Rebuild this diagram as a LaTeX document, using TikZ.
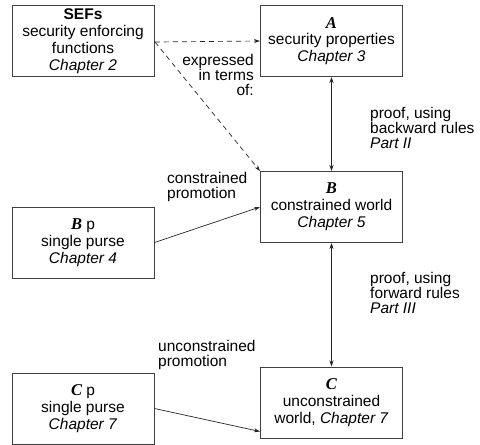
\documentclass[tikz,border=0pt]{standalone}
\usepackage{fontspec}
\setmainfont{Liberation Sans}
\newfontfamily\serifbi{Liberation Serif}
\usetikzlibrary{arrows.meta}
\newcommand{\mathletter}[1]{{\serifbi\bfseries\itshape\fontsize{16.5}{16.8}\selectfont #1}}
\begin{document}
\begin{tikzpicture}[x=1pt,y=-1pt,
  box/.style={draw=black!75,line width=1pt,minimum width=142pt,minimum height=71pt,align=center,inner sep=0pt,font=\fontsize{15.5}{16.8}\selectfont},
  lbl/.style={align=left,inner sep=0pt,font=\fontsize{15.5}{14.8}\selectfont},
  conn/.style={line width=0.7pt,black!85,-{Stealth[length=6pt,width=4pt]}},
  dconn/.style={line width=0.8pt,black!85,{Stealth[length=6pt,width=4pt]}-{Stealth[length=6pt,width=4pt]}}]
\useasboundingbox (0,0) rectangle (480,445);
\node[box] (sef) at (83,41) {{\bfseries SEFs}\\security enforcing\\functions\\\textit{Chapter 2}};
\node[box] (A) at (331.5,41) {\mathletter{A}\\security properties\\\textit{Chapter 3}};
\node[box] (B) at (331.5,207) {\mathletter{B}\\constrained world\\\textit{Chapter 5}};
\node[box] (Bp) at (83,242.5) {\mathletter{B} p\\single purse\\\textit{Chapter 4}};
\node[box] (C) at (331.5,402.5) {\mathletter{C}\\unconstrained\\world, \textit{Chapter 7}};
\node[box] (Cp) at (83,408.5) {\mathletter{C} p\\single purse\\\textit{Chapter 7}};
\coordinate (sefc) at (155,42);
\draw[conn,dashed,dash pattern=on 5pt off 4pt] (sefc) -- (A.west);
\draw[conn,dashed,dash pattern=on 5pt off 4pt] (sefc) -- (B.north west);
\draw[dconn] (A.south) -- (B.north);
\draw[dconn] (B.south) -- (C.north);
\draw[conn] (Bp.east) -- (B.west);
\draw[conn] (Cp.east) -- ([yshift=-29pt]C.west);
\node[lbl,align=right,anchor=north east] (l1) at (254,54) {expressed\\in terms\\of:};
\node[lbl,anchor=north west] (l2) at (167,172) {constrained\\promotion};
\node[lbl,anchor=north west] (l3) at (370,107) {proof, using\\backward rules\\\textit{Part II}};
\node[lbl,anchor=north west] (l4) at (370,272) {proof, using\\forward rules\\\textit{Part III}};
\node[lbl,anchor=north west] (l5) at (158,340) {unconstrained\\promotion};
\end{tikzpicture}
\end{document}
